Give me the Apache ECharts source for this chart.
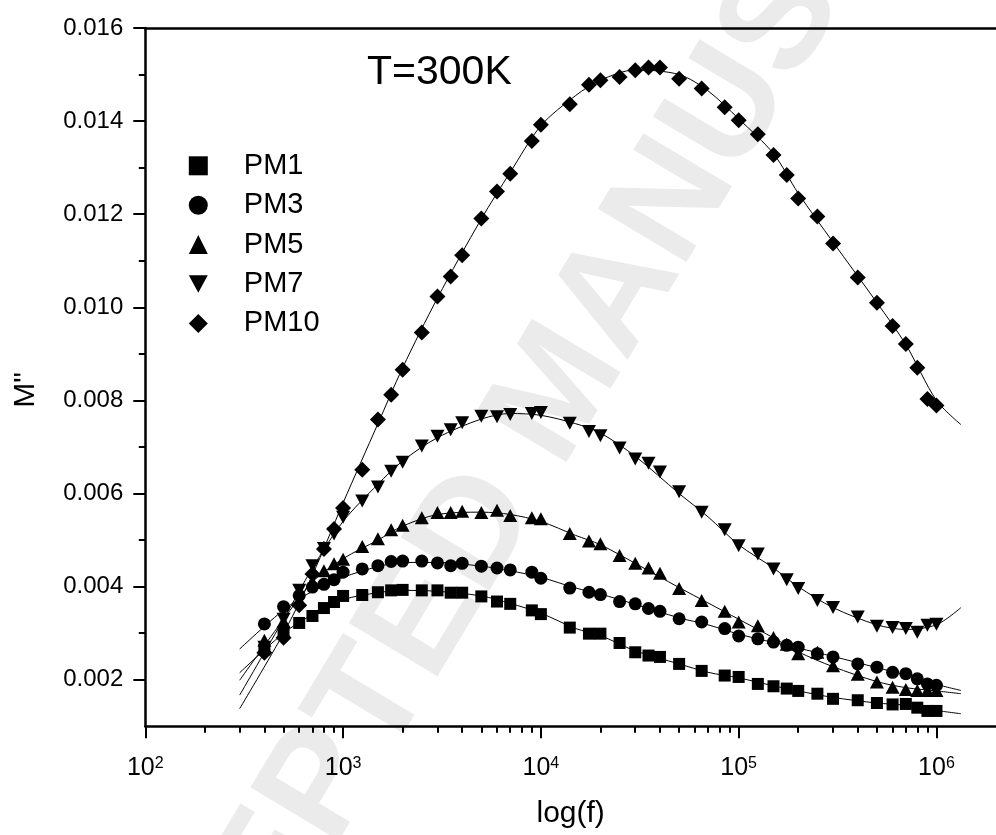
<!DOCTYPE html>
<html><head><meta charset="utf-8">
<script src="https://cdn.jsdelivr.net/npm/echarts@6/dist/echarts.min.js"></script>
<style>html,body{margin:0;padding:0;background:#fff}#c{width:996px;height:835px}</style>
</head><body><div id="c"></div>
<script>
// ---- data ----
const freq = [400,500,600,700,800,900,1000,
  1250,1500,1750,2000,2500,3000,3500,4000,5000,6000,7000,9000,10000,
  14000,17500,20000,25000,30000,35000,40000,50000,65000,85000,100000,
  125000,150000,175000,200000,250000,300000,400000,500000,600000,700000,800000,900000,1000000];
const pm1 = [0.00265,0.00303,0.00322,0.00337,0.00354,0.00367,0.0038,
  0.00382,0.00388,0.00392,0.00393,0.00392,0.00392,0.00387,0.00387,0.00379,0.00368,0.00363,0.00349,0.00341,
  0.00312,0.00299,0.00299,0.00279,0.00259,0.00252,0.00249,0.00234,0.00219,0.00209,0.00206,
  0.00191,0.00186,0.00181,0.00176,0.0017,0.00159,0.00156,0.0015,0.00147,0.00148,0.0014,0.00133,0.00133];
const pm3 = [0.0032,0.00357,0.00381,0.00399,0.00405,0.00415,0.00431,
  0.00438,0.00445,0.00454,0.00455,0.00455,0.00451,0.00445,0.0045,0.00444,0.0044,0.00436,0.00431,0.00418,
  0.00397,0.00388,0.00383,0.00368,0.00363,0.00353,0.00347,0.00331,0.00324,0.0031,0.00294,
  0.00288,0.00281,0.00274,0.0027,0.00256,0.00249,0.00234,0.00227,0.00216,0.00213,0.00202,0.00191,0.00188];
const pm5 = [0.00285,0.00325,0.0037,0.0041,0.00434,0.00449,0.00459,
  0.00486,0.00503,0.00522,0.00532,0.00548,0.00559,0.00559,0.00562,0.00559,0.00564,0.00553,0.00548,0.00546,
  0.00514,0.00498,0.00492,0.00467,0.0045,0.0044,0.00429,0.00396,0.0037,0.00347,0.00324,
  0.00316,0.00291,0.00276,0.00256,0.00259,0.0023,0.00212,0.00195,0.00184,0.00179,0.00177,0.00177,0.00177];
const pm7 = [0.0027,0.0033,0.00392,0.00445,0.00482,0.00513,0.00549,
  0.00584,0.00614,0.00648,0.00667,0.00702,0.00723,0.00737,0.00752,0.00766,0.00765,0.0077,0.00772,0.00774,
  0.00751,0.00733,0.00724,0.00698,0.00674,0.00665,0.00646,0.00604,0.0056,0.00522,0.00488,
  0.0047,0.00438,0.00415,0.00396,0.0037,0.00355,0.00335,0.00315,0.00312,0.0031,0.00302,0.00317,0.00319];
const pm10 = [0.00258,0.0029,0.0036,0.00427,0.00481,0.00524,0.00569,
  0.00651,0.00759,0.00812,0.00866,0.00946,0.01023,0.01066,0.01112,0.01191,0.01249,0.01287,0.01357,0.01392,
  0.01436,0.01478,0.01488,0.01495,0.01509,0.01515,0.01515,0.01491,0.0147,0.0143,0.01402,
  0.01372,0.01327,0.01284,0.01234,0.01195,0.01137,0.01064,0.0101,0.0096,0.00921,0.0087,0.00803,0.00789];

// fitted curves (thin lines)
const fitFreq = [300,500,700,1000,1500,2000,3000,5000,7000,10000,15000,20000,30000,50000,70000,100000,150000,200000,300000,500000,700000,1000000,1330000];
const fitPM1 = [0.00215,0.003,0.0034,0.00372,0.00387,0.00392,0.0039,0.0038,0.00364,0.00343,0.0031,0.00295,0.00262,0.00234,0.00216,0.00204,0.00187,0.00176,0.00162,0.0015,0.00145,0.00134,0.00127];
const fitPM3 = [0.00266,0.0035,0.0039,0.0042,0.00443,0.00452,0.00452,0.00444,0.00434,0.0042,0.00397,0.00384,0.00362,0.00333,0.00318,0.00298,0.0028,0.00268,0.0025,0.00226,0.0021,0.0019,0.00177];
const fitPM5 = [0.00199,0.0033,0.0041,0.0046,0.005,0.0053,0.00555,0.0056,0.00555,0.0054,0.0051,0.0049,0.0045,0.00398,0.00365,0.0033,0.0029,0.0026,0.00228,0.00196,0.00183,0.00176,0.0017];
const fitPM7 = [0.00167,0.0033,0.0044,0.0054,0.0062,0.0067,0.0072,0.0076,0.00772,0.00768,0.0075,0.0073,0.0068,0.006,0.0055,0.0049,0.0044,0.004,0.00355,0.00318,0.00308,0.00318,0.00355];
const fitPM10 = [0.00138,0.003,0.00425,0.0058,0.0075,0.0087,0.0102,0.0119,0.0129,0.0139,0.01455,0.01488,0.0151,0.015,0.01465,0.01405,0.0133,0.01245,0.0114,0.0101,0.0092,0.008,0.00748];

const seriesNames = ['PM1','PM3','PM5','PM7','PM10'];
const xMajorTicks = [100,1000,10000,100000,1000000];
const xMinorTicks = [200,300,400,500,600,700,800,900,2000,3000,4000,5000,6000,7000,8000,9000,
  20000,30000,40000,50000,60000,70000,80000,90000,200000,300000,400000,500000,600000,700000,800000,900000];
const yMajorTicks = [0.002,0.004,0.006,0.008,0.010,0.012,0.014,0.016];
const yMinorTicks = [0.003,0.005,0.007,0.009,0.011,0.013,0.015];
const xTitle = 'log(f)';
const yTitle = 'M"';
const annotation = 'T=300K';
const watermark = 'ACCEPTED MANUSCRIPT';

// ---- chart ----
const FONT = '"Liberation Sans", Arial, Helvetica, sans-serif';
const chart = echarts.init(document.getElementById('c'), null, {renderer: 'canvas'});
const pairs = (xs, ys) => xs.map((x, i) => [x, ys[i]]);
const downTri = 'path://M0,0L14,0L7,13Z';
const marks = [
  {symbol: 'rect', size: [12, 12]},
  {symbol: 'circle', size: 13},
  {symbol: 'triangle', size: [14, 13]},
  {symbol: downTri, size: [14, 13]},
  {symbol: 'diamond', size: [16, 16]}
];
const values = [pm1, pm3, pm5, pm7, pm10];
const fits = [fitPM1, fitPM3, fitPM5, fitPM7, fitPM10];

const series = [];
fits.forEach((f, i) => {
  series.push({
    name: seriesNames[i] + ' fit', type: 'line', data: pairs(fitFreq, f),
    smooth: 0.3, showSymbol: false, symbol: 'none', silent: true,
    lineStyle: {color: '#000', width: 1}, z: 2
  });
});
values.forEach((v, i) => {
  series.push({
    name: seriesNames[i], type: 'scatter', data: pairs(freq, v),
    symbol: marks[i].symbol, symbolSize: marks[i].size,
    itemStyle: {color: '#000', opacity: 1}, z: 3
  });
});

const xLabel = v => '{b|10}{s|' + Math.round(Math.log10(v)) + '}';

const option = {
  backgroundColor: '#fff',
  animation: false,
  grid: {left: 145.3, right: 0, top: 28, bottom: 108.7, containLabel: false},
  legend: {
    data: seriesNames.map((n, i) => ({name: n, icon: marks[i].symbol})),
    orient: 'vertical', left: 188.8, top: 151.3, padding: 0,
    itemWidth: 19, itemHeight: 19, itemGap: 10.4, symbolKeepAspect: true,
    formatter: n => '{g|}{t|' + n + '}',
    textStyle: {
      fontFamily: FONT, fontSize: 29, color: '#000', lineHeight: 29,
      rich: {g: {width: 31, lineHeight: 29}, t: {fontFamily: FONT, fontSize: 29, color: '#000', lineHeight: 29}}
    },
    itemStyle: {color: '#000'}, selectedMode: false
  },
  xAxis: [
    {
      type: 'log', logBase: 10, min: 100, max: 2000000, position: 'bottom',
      name: xTitle, nameLocation: 'middle', nameGap: 72,
      nameTextStyle: {fontFamily: FONT, fontSize: 30, color: '#000'},
      axisLine: {show: true, lineStyle: {color: '#000', width: 2.5}},
      axisTick: {show: true, inside: false, length: 12, lineStyle: {color: '#000', width: 2}, customValues: xMajorTicks},
      axisLabel: {
        show: true, margin: 29, customValues: xMajorTicks, formatter: xLabel,
        rich: {
          b: {fontFamily: FONT, fontSize: 25, color: '#000', lineHeight: 25},
          s: {fontFamily: FONT, fontSize: 16, color: '#000', lineHeight: 16, verticalAlign: 'top', padding: [0, 0, 4, 0]}
        }
      },
      splitLine: {show: false}
    },
    {
      type: 'log', logBase: 10, min: 100, max: 2000000, position: 'bottom',
      axisLine: {show: false},
      axisTick: {show: true, inside: false, length: 6.5, lineStyle: {color: '#000', width: 2}, customValues: xMinorTicks},
      axisLabel: {show: false}, splitLine: {show: false}
    },
    {
      type: 'log', logBase: 10, min: 100, max: 2000000, position: 'top',
      axisLine: {show: true, lineStyle: {color: '#000', width: 2.5}},
      axisTick: {show: false}, axisLabel: {show: false}, splitLine: {show: false}
    }
  ],
  yAxis: [
    {
      type: 'value', min: 0.001, max: 0.016, position: 'left',
      axisLine: {show: true, onZero: false, lineStyle: {color: '#000', width: 2.5}},
      axisTick: {show: true, inside: false, length: 12, lineStyle: {color: '#000', width: 2}, customValues: yMajorTicks},
      axisLabel: {show: true, margin: 22, customValues: yMajorTicks, formatter: v => v.toFixed(3),
        fontFamily: FONT, fontSize: 24, color: '#000'},
      splitLine: {show: false}
    },
    {
      type: 'value', min: 0.001, max: 0.016, position: 'left',
      axisLine: {show: false},
      axisTick: {show: true, inside: false, length: 6.5, lineStyle: {color: '#000', width: 2}, customValues: yMinorTicks},
      axisLabel: {show: false}, splitLine: {show: false}
    }
  ],
  graphic: [
    {
      type: 'text', x: 560, y: 392, rotation: 59 * Math.PI / 180, z: -10, silent: true,
      style: {text: watermark, font: 'bold 150px ' + FONT, fill: '#ebebeb', textAlign: 'center', textVerticalAlign: 'middle'}
    },
    {
      type: 'text', x: 367, y: 73, z: 100, silent: true,
      style: {text: annotation, font: 'normal 41px ' + FONT, fill: '#000', textAlign: 'left', textVerticalAlign: 'middle'}
    },
    {
      type: 'text', x: 26, y: 390, rotation: Math.PI / 2, z: 100, silent: true,
      style: {text: yTitle, font: 'normal 30px ' + FONT, fill: '#000', textAlign: 'center', textVerticalAlign: 'middle'}
    }
  ],
  series: series
};
chart.setOption(option);
</script>
</body></html>
